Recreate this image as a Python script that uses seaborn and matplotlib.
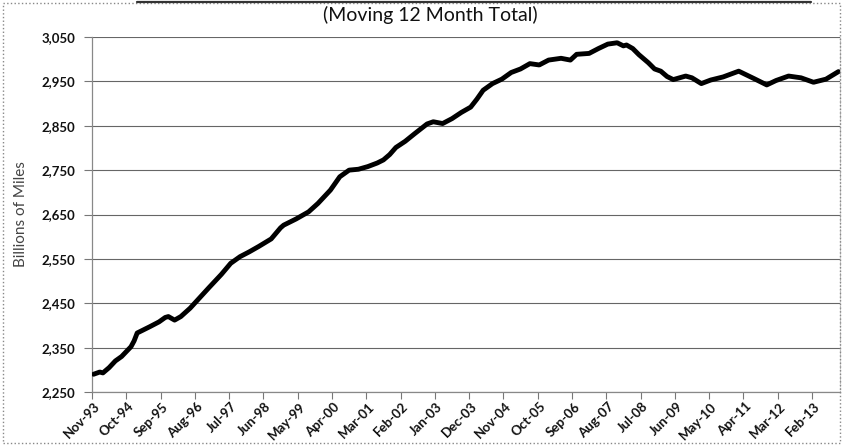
import matplotlib
matplotlib.use("Agg")
import matplotlib.pyplot as plt
from matplotlib.patches import Rectangle
from matplotlib.lines import Line2D
import seaborn as sns
import pandas as pd
import numpy as np

# ---- data ----
months = [
    "1993-11", "1994-01", "1994-02", "1994-04", "1994-06", "1994-08", "1994-11", "1994-12",
    "1995-01", "1995-03", "1995-05", "1995-08", "1995-10", "1995-11", "1996-01", "1996-03",
    "1996-06", "1996-09", "1996-12", "1997-04", "1997-07", "1997-10", "1998-01", "1998-04",
    "1998-08", "1998-11", "1998-12", "1999-04", "1999-08", "1999-11", "2000-03", "2000-06",
    "2000-09", "2000-12", "2001-03", "2001-06", "2001-08", "2001-10", "2001-12", "2002-03",
    "2002-06", "2002-10", "2002-12", "2003-03", "2003-06", "2003-09", "2003-12", "2004-02",
    "2004-04", "2004-07", "2004-10", "2005-01", "2005-04", "2005-07", "2005-10", "2006-01",
    "2006-05", "2006-08", "2006-10", "2007-02", "2007-05", "2007-08", "2007-11", "2008-01",
    "2008-02", "2008-04", "2008-06", "2008-09", "2008-11", "2009-01", "2009-03", "2009-05",
    "2009-09", "2009-11", "2010-02", "2010-05", "2010-09", "2011-02", "2011-07", "2011-11",
    "2012-02", "2012-06", "2012-10", "2013-02", "2013-06", "2013-10",
]
vmt = [
    2290, 2295, 2293, 2305, 2320, 2330, 2352, 2365,
    2383, 2390, 2397, 2408, 2418, 2420, 2412, 2420,
    2439, 2462, 2485, 2515, 2540, 2555, 2566, 2578,
    2595, 2620, 2626, 2640, 2656, 2675, 2705, 2735,
    2750, 2752, 2758, 2766, 2773, 2785, 2801, 2815,
    2832, 2854, 2859, 2855, 2866, 2880, 2892, 2910,
    2930, 2945, 2955, 2970, 2978, 2990, 2987, 2998,
    3002, 2998, 3011, 3013, 3024, 3034, 3037, 3030,
    3032, 3024, 3010, 2992, 2978, 2973, 2961, 2954,
    2962, 2958, 2945, 2953, 2960, 2973, 2956, 2942,
    2952, 2962, 2958, 2948, 2955, 2972,
]
first_month = "1993-11"
last_month = "2013-10"
tick_labels = ["Nov-93", "Oct-94", "Sep-95", "Aug-96", "Jul-97", "Jun-98", "May-99",
               "Apr-00", "Mar-01", "Feb-02", "Jan-03", "Dec-03", "Nov-04", "Oct-05",
               "Sep-06", "Aug-07", "Jul-08", "Jun-09", "May-10", "Apr-11", "Mar-12",
               "Feb-13"]
y_ticks = [2250, 2350, 2450, 2550, 2650, 2750, 2850, 2950, 3050]
title = "(Moving 12 Month Total)"
ylabel = "Billions of Miles"

# ---- build table: category index of each month ----
p0 = pd.Period(first_month, freq="M")
p_last = pd.Period(last_month, freq="M")
idx = [(pd.Period(m, freq="M") - p0).n for m in months]
n_months = (p_last - p0).n + 1
df = pd.DataFrame({"idx": idx, "vmt": vmt})
label_pos = [(pd.Period(pd.to_datetime(l, format="%b-%y"), freq="M") - p0).n for l in tick_labels]

sns.set_theme(style="white")
plt.rcParams["font.family"] = ["Lato", "DejaVu Sans"]

fig = plt.figure(figsize=(8.42, 4.45), dpi=100)
ax = fig.add_axes([92 / 842, 1 - 392 / 445, 748 / 842, (392 - 37) / 445])

sns.lineplot(data=df, x="idx", y="vmt", ax=ax, color="black", linewidth=3.5,
             solid_joinstyle="round", solid_capstyle="round", zorder=3)

ax.set_xlim(-0.5, n_months - 0.5)
ax.set_ylim(y_ticks[0], y_ticks[-1])

ax.set_yticks(y_ticks)
ax.set_yticklabels([f"{v:,}" for v in y_ticks], fontsize=9.5, fontweight="bold", color="#111")
ax.yaxis.grid(True, color="#666", linewidth=0.8, zorder=0)
ax.xaxis.grid(False)

ax.set_xticks(label_pos)
ax.set_xticklabels(tick_labels, rotation=45, ha="right", rotation_mode="anchor",
                   fontsize=9.5, fontweight="bold", color="#111")
ax.tick_params(axis="x", which="major", length=0, pad=6)
ax.set_xticks([p - 0.5 for p in label_pos], minor=True)
ax.tick_params(axis="x", which="minor", length=5, width=0.8, color="#777", bottom=True)
ax.tick_params(axis="y", which="major", length=6, width=0.8, color="#777", left=True, pad=6)

ax.set_xlabel("")
ax.set_ylabel(ylabel, fontsize=11, color="#444", labelpad=10)

ax.spines["top"].set_visible(False)
ax.spines["left"].set_color("#888")
ax.spines["left"].set_linewidth(0.9)
ax.spines["bottom"].set_color("#888")
ax.spines["bottom"].set_linewidth(0.9)
ax.spines["right"].set_color("#bbb")
ax.spines["right"].set_linewidth(0.8)
ax.spines["right"].set_linestyle(":")

fig.text(430 / 842, 1 - 15 / 445, title, ha="center", va="center", fontsize=14, color="#111")

# outer chart frame
fig.patches.append(Rectangle((3 / 842, 2 / 445), 837 / 842, 440 / 445, transform=fig.transFigure,
                             fill=False, edgecolor="#888", linewidth=1.0, linestyle=":"))
fig.lines.append(Line2D([137 / 842, 811 / 842], [1 - 2 / 445, 1 - 2 / 445], transform=fig.transFigure,
                        color="#333", linewidth=1.6))

fig.savefig("out.png", dpi=100)
